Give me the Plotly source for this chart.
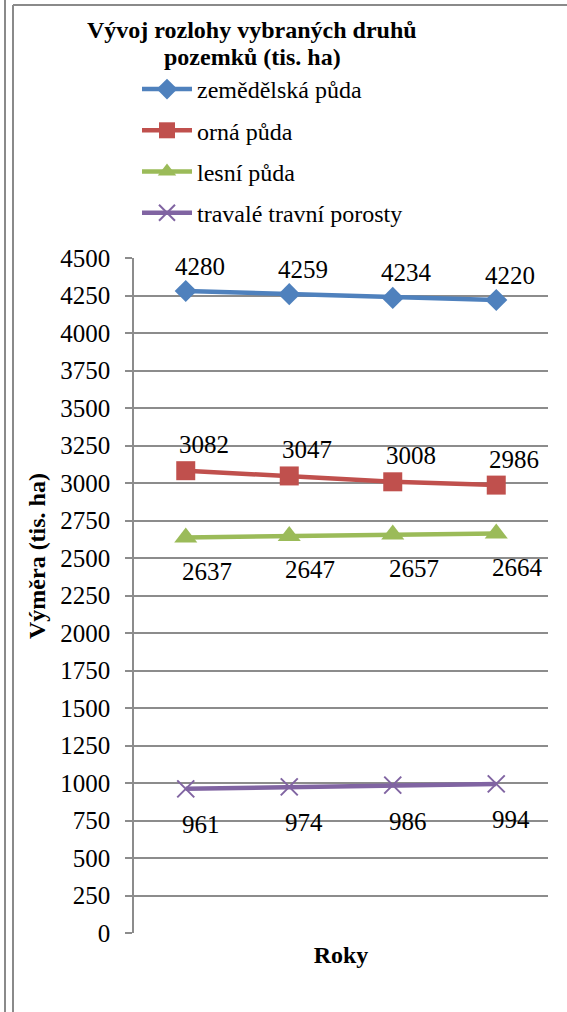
import plotly.graph_objects as go

categories = ["rok 1", "rok 2", "rok 3", "rok 4"]
zemedelska = [4280, 4259, 4234, 4220]
orna = [3082, 3047, 3008, 2986]
lesni = [2637, 2647, 2657, 2664]
travni = [961, 974, 986, 994]

series_names = ["zemědělská půda", "orná půda", "lesní půda", "travalé travní porosty"]
series_values = [zemedelska, orna, lesni, travni]
colors = ["#4F81BD", "#C0504D", "#9BBB59", "#8064A2"]
symbols = ["diamond", "square", "triangle-up", "x-thin"]
msizes = [17, 19, 20, 17]
label_yshift = [25, 26, -34, -36]
label_xshift = [14, 18, 21, 15]

W, H = 567, 1012
L, R, T, B = 134, 19, 258, 79
pw, ph = W - L - R, H - T - B

def px_x(p):
    return (p - L) / pw

def px_y(p):
    return (H - B - p) / ph

FONT = "Liberation Serif"
GRID = "#8c8c8c"

fig = go.Figure()
for i, (name, vals) in enumerate(zip(series_names, series_values)):
    marker = dict(symbol=symbols[i], size=msizes[i], color=colors[i])
    if symbols[i] == "x-thin":
        marker["line"] = dict(width=2, color=colors[i])
    fig.add_trace(go.Scatter(
        x=categories, y=vals, name=name, mode="lines+markers",
        line=dict(color=colors[i], width=4.5),
        marker=marker, legendgroup=f"g{i}",
    ))
    for c, v in zip(categories, vals):
        fig.add_annotation(x=c, y=v, text=str(v), showarrow=False,
                           xshift=label_xshift[i], yshift=label_yshift[i],
                           font=dict(family=FONT, size=25, color="black"))

# y-axis title as annotation (positioned like the reference)
fig.add_annotation(xref="paper", yref="paper", x=px_x(37), y=px_y(556),
                   xanchor="center", yanchor="middle",
                   text="<b>Výměra (tis. ha)</b>", textangle=-90, showarrow=False,
                   font=dict(family=FONT, size=24, color="black"))

# chart title (two lines)
for txt, ypix in [("<b>Vývoj rozlohy vybraných druhů</b>", 30),
                  ("<b>pozemků (tis. ha)</b>", 57)]:
    fig.add_annotation(xref="paper", yref="paper", x=px_x(252), y=px_y(ypix),
                       xanchor="center", yanchor="middle", text=txt, showarrow=False,
                       font=dict(family=FONT, size=24, color="black"))

# frame lines
border = dict(color="#8a8a8a", width=2)
fig.add_shape(type="line", xref="paper", yref="paper", x0=px_x(5), x1=px_x(5),
              y0=px_y(0), y1=px_y(1012), line=border)
fig.add_shape(type="line", xref="paper", yref="paper", x0=px_x(13), x1=px_x(13),
              y0=px_y(5), y1=px_y(1012), line=border)
fig.add_shape(type="line", xref="paper", yref="paper", x0=px_x(13), x1=px_x(567),
              y0=px_y(5), y1=px_y(5), line=border)

fig.update_layout(
    width=W, height=H,
    margin=dict(l=L, r=R, t=T, b=B),
    paper_bgcolor="white", plot_bgcolor="white",
    font=dict(family=FONT, size=24, color="black"),
    legend=dict(x=px_x(137), y=px_y(67), xanchor="left", yanchor="top",
                orientation="v", font=dict(family=FONT, size=24, color="black"),
                tracegroupgap=7, itemwidth=50, bgcolor="rgba(0,0,0,0)"),
    showlegend=True,
)
fig.update_xaxes(type="category", range=[-0.5, 3.5], showticklabels=False,
                 showgrid=False, zeroline=False, showline=False, ticks="",
                 title=dict(text="<b>Roky</b>", standoff=13,
                            font=dict(family=FONT, size=24, color="black")))
fig.update_yaxes(range=[0, 4500], dtick=250, tick0=0, showgrid=True,
                 gridcolor=GRID, gridwidth=1.5, zeroline=False,
                 showline=True, linecolor=GRID, linewidth=1.5,
                 ticks="outside", ticklen=7, tickcolor=GRID, tickwidth=1.5,
                 ticklabelstandoff=10,
                 tickfont=dict(family=FONT, size=25, color="black"))

fig.write_html("out.html", config={"displayModeBar": False},
               post_script="document.body.style.margin='0';document.body.style.overflow='hidden';")
